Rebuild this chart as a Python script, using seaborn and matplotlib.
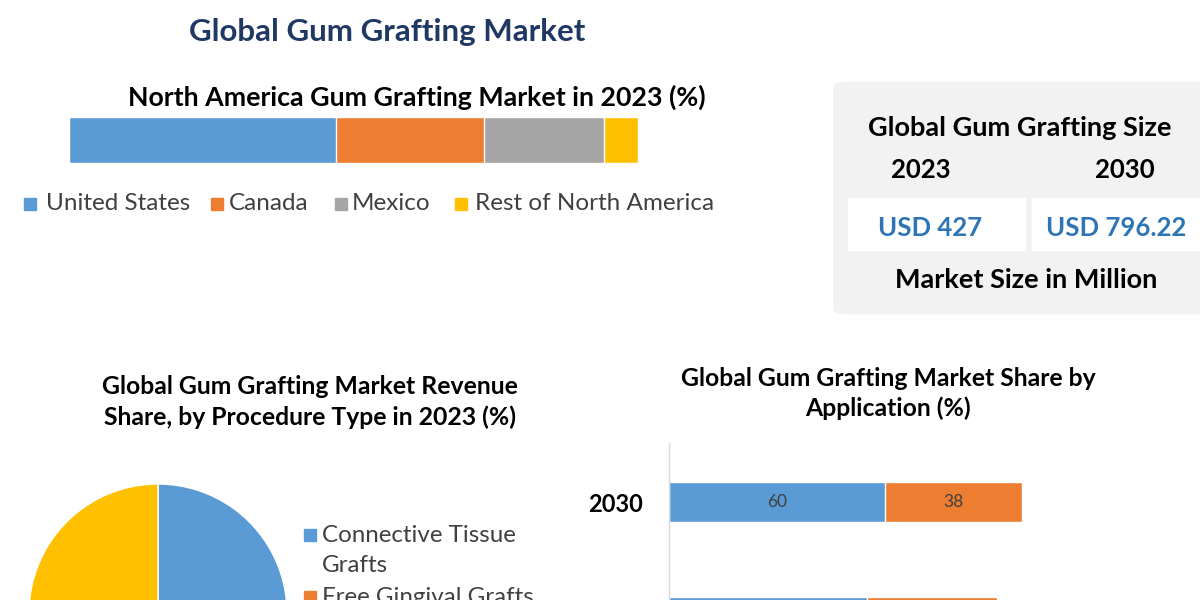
import textwrap
import numpy as np
import pandas as pd
import matplotlib
matplotlib.use("Agg")
import matplotlib.pyplot as plt
from matplotlib.patches import Rectangle, FancyBboxPatch
import seaborn as sns

# ---------------- data ----------------
main_title = "Global Gum Grafting Market"

na_title = "North America Gum Grafting Market in 2023 (%)"
na_regions = ["United States", "Canada", "Mexico", "Rest of North America"]
na_share = [47, 26, 21, 6]

size_title = "Global Gum Grafting Size"
size_years = ["2023", "2030"]
size_values = ["USD 427", "USD 796.22"]
size_unit = "Market Size in Million"

pie_title = "Global Gum Grafting Market Revenue\nShare, by Procedure Type in 2023 (%)"
procedures = ["Connective Tissue Grafts", "Free Gingival Grafts", "Pedicle Grafts", "Others"]
procedure_share = [40, 20, 12, 28]

app_title = "Global Gum Grafting Market Share by\nApplication (%)"
app_years = ["2030", "2023"]
app_series = ["Gum Recession", "Cosmetic"]
app_first = [60, 55]
app_second = [38, 36]

# ---------------- style ----------------
sns.set_theme(style="white")
plt.rcParams["font.family"] = ["Lato", "DejaVu Sans"]

BLUE, ORANGE, GRAY, YELLOW = "#5B9BD5", "#ED7D31", "#A5A5A5", "#FFC000"
palette = [BLUE, ORANGE, GRAY, YELLOW]
TXT = "#404040"

W, H = 1200, 600
fig = plt.figure(figsize=(12, 6), dpi=100)
fig.patch.set_facecolor("white")


def fx(x):
    return x / W


def fy(y):
    return 1 - y / H


def ftext(x, y, s, **kw):
    kw.setdefault("ha", "center")
    kw.setdefault("va", "center")
    return fig.text(fx(x), fy(y), s, **kw)


def axes_px(x0, y0, x1, y1):
    return fig.add_axes([fx(x0), fy(y1), (x1 - x0) / W, (y1 - y0) / H])


# ---------------- main title ----------------
ftext(387, 32, main_title, fontsize=22.5, fontweight="bold", color="#1F3864")

# ---------------- North America stacked bar ----------------
ftext(417, 97, na_title, fontsize=19.3, fontweight="bold", color="black")
ax1 = axes_px(69, 110, 638, 170)
cum = np.cumsum(na_share)
for i in reversed(range(len(na_share))):
    sns.barplot(x=[cum[i]], y=["2023"], orient="h", color=palette[i],
                saturation=1, width=46 / 60, ax=ax1)
ax1.set_xlim(0, cum[-1])
ax1.set_ylim(0.5, -0.5)
ax1.axis("off")

# legend (manual)
sq_x = [24, 211, 335, 455]
tx_x = [46, 229, 352, 475]
for i, name in enumerate(na_regions):
    fig.patches.append(Rectangle((fx(sq_x[i]), fy(210)), 12 / W, 12 / H,
                                 transform=fig.transFigure, color=palette[i]))
    ftext(tx_x[i], 203, name, ha="left", fontsize=17.5, color=TXT)

# ---------------- size box ----------------
fig.patches.append(FancyBboxPatch((fx(838), fy(312)), (1230 - 838) / W, (312 - 84) / H,
                                  boxstyle="round,pad=0.004,rounding_size=0.01",
                                  transform=fig.transFigure, facecolor="#F2F2F2",
                                  edgecolor="none"))
ftext(1020, 128, size_title, fontsize=19.5, fontweight="bold", color="black")
fig.patches.append(Rectangle((fx(848), fy(250)), (1025 - 848) / W, 52 / H,
                             transform=fig.transFigure, color="white"))
fig.patches.append(Rectangle((fx(1032), fy(250)), (1210 - 1032) / W, 52 / H,
                             transform=fig.transFigure, color="white"))
for xc, yr, val, vx in zip([921, 1125], size_years, size_values, [930, 1116]):
    ftext(xc, 170, yr, fontsize=18.5, fontweight="bold", color="black")
    ftext(vx, 228, val, fontsize=18.5, fontweight="bold", color="#2E75B6")
ftext(1026, 280, size_unit, fontsize=19.5, fontweight="bold", color="black")

# ---------------- pie ----------------
ftext(310, 402, pie_title, fontsize=17.8, fontweight="bold", color="black",
      linespacing=1.35)
ax2 = axes_px(158 - 129, 613 - 129, 158 + 129, 613 + 129)
ax2.pie(procedure_share, colors=palette, startangle=90, counterclock=False,
        wedgeprops=dict(edgecolor="white", linewidth=1))
ax2.set_xlim(-1, 1)
ax2.set_ylim(-1, 1)
ax2.set_aspect("equal")
ax2.axis("off")

ly = 535
for i, name in enumerate(procedures):
    lines = textwrap.fill(name, 20).split("\n")
    if ly > H:
        break
    fig.patches.append(Rectangle((fx(304), fy(ly + 6)), 12 / W, 12 / H,
                                 transform=fig.transFigure, color=palette[i]))
    for ln in lines:
        ftext(322, ly, ln, ha="left", fontsize=17.4, color=TXT)
        ly += 31

# ---------------- application bars ----------------
ftext(888, 393.5, app_title, fontsize=17.8, fontweight="bold", color="black",
      linespacing=1.3)
ax3 = axes_px(669, 443, 1029, 600)
totals = [a + b for a, b in zip(app_first, app_second)]
bw = 40 / 115
sns.barplot(x=totals, y=app_years, orient="h", color=ORANGE, saturation=1,
            width=bw, ax=ax3)
sns.barplot(x=app_first, y=app_years, orient="h", color=BLUE, saturation=1,
            width=bw, ax=ax3)
y_bottom = (600 - 502) / 115
y_top = -(502 - 443) / 115
for i in range(len(app_years)):
    if i + 0.2 > y_bottom:
        continue  # label would fall outside the visible canvas
    ax3.text(app_first[i] / 2, i, str(app_first[i]), ha="center", va="center",
             fontsize=12.5, color=TXT)
    ax3.text(app_first[i] + app_second[i] / 2, i, str(app_second[i]),
             ha="center", va="center", fontsize=12.5, color=TXT)
ax3.set_xlim(0, 100)
ax3.set_ylim(y_bottom, y_top)
ax3.set_xlabel("")
ax3.set_ylabel("")
ax3.set_xticks([])
for s in ["top", "right", "bottom"]:
    ax3.spines[s].set_visible(False)
ax3.spines["left"].set_color("#D9D9D9")
ax3.spines["left"].set_linewidth(1)
ax3.tick_params(axis="y", length=0, pad=19)
for t in ax3.get_yticklabels():
    t.set_fontweight("bold")
    t.set_fontsize(17)
    t.set_color("black")

fig.savefig("out.png", dpi=100, facecolor="white")
